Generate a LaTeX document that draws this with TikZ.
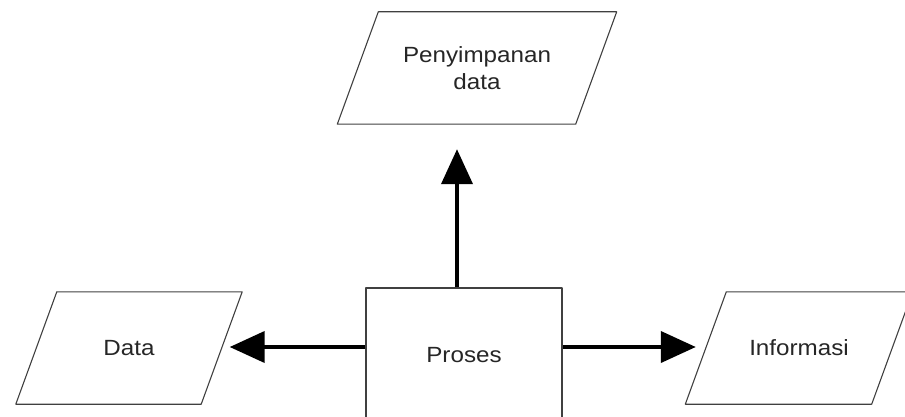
\documentclass[tikz,border=0pt]{standalone}
\usepackage{fontspec}
\newfontfamily\diafont[FakeStretch=1.1]{Liberation Sans}
\usetikzlibrary{arrows.meta}
% jajar genjang di sekeliling simpul bernama #1
\newcommand\jajar[1]{\draw[ioline] ([xshift=20.5pt]#1.north west) -- ([xshift=20.5pt]#1.north east)
    -- ([xshift=-20.5pt]#1.south east) -- ([xshift=-20.5pt]#1.south west) -- cycle;}
\begin{document}
\begin{tikzpicture}[x=1pt, y=-1pt, line join=round,
    font=\diafont\fontsize{22}{27}\selectfont,
    ioline/.style={draw=black!75, line width=1.1pt},
    iobox/.style={text=black!85, minimum height=112pt, align=center},
    procbox/.style={draw=black!75, line width=1.1pt, text=black!85,
        minimum width=196pt, minimum height=134pt},
    flow/.style={line width=4pt, -{Triangle[length=35pt, width=31pt]}}]
    \useasboundingbox (0,0) rectangle (905,417);
    \clip (0,0) rectangle (905,417);
    % Kotak dan jajar genjang
    \node[procbox] (proses) at (464,355) {Proses};
    \node[iobox, minimum width=238pt] (simpan) at (477,68) {Penyimpanan\\data};
    \node[iobox, minimum width=185pt] (data) at (129,348) {Data};
    \node[iobox, minimum width=186pt] (info) at (799,348) {Informasi};
    \jajar{simpan} \jajar{data} \jajar{info}
    % Panah
    \draw[flow, shorten >=25pt] ([xshift=-7pt]proses.north) -- ([xshift=-20pt]simpan.south);
    \draw[flow, shorten >=8pt] ([yshift=8pt]proses.west) -- ([yshift=1pt]data.east);
    \draw[flow, shorten >=10pt] ([yshift=8pt]proses.east) -- ([yshift=1pt]info.west);
\end{tikzpicture}
\end{document}
